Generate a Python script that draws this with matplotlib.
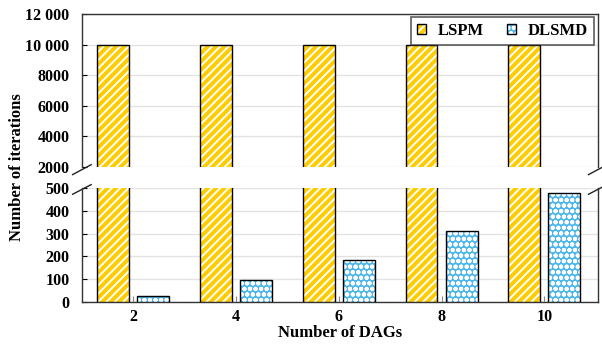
import numpy as np
import matplotlib
matplotlib.use('Agg')
import matplotlib.pyplot as plt
from matplotlib.ticker import FuncFormatter
from matplotlib.patches import Rectangle

plt.rcParams['font.family'] = ['Liberation Serif', 'DejaVu Serif']
plt.rcParams['font.weight'] = 'bold'
plt.rcParams['hatch.linewidth'] = 1.4

dags = ['2', '4', '6', '8', '10']
lspm = [10000, 10000, 10000, 10000, 10000]
dlsmd = [25, 95, 182, 312, 480]

yellow = '#FFCC00'
blue = '#4DB6EA'

x = np.arange(len(dags))
w = 0.31
off = 0.195

fig = plt.figure(figsize=(6.02, 3.45), dpi=100)
ax_top = fig.add_axes([0.136, 0.516, 0.857, 0.443])
ax_bot = fig.add_axes([0.136, 0.125, 0.857, 0.330])

for ax in (ax_top, ax_bot):
    # fill + white hatch, then black outline on top
    ax.bar(x - off, lspm, w, color=yellow, edgecolor='white', hatch='////',
           linewidth=0, zorder=3)
    ax.bar(x - off, lspm, w, fill=False, edgecolor='black', linewidth=1.0, zorder=4)
    ax.bar(x + off, dlsmd, w, color=blue, edgecolor='white', hatch='ooo',
           linewidth=0, zorder=3)
    ax.bar(x + off, dlsmd, w, fill=False, edgecolor='black', linewidth=1.0, zorder=4)
    ax.set_xlim(-0.5, 4.52)
    ax.grid(axis='y', color='#e3e3e3', linewidth=1.0, zorder=0)
    ax.tick_params(axis='both', direction='in', labelsize=11.5)
    ax.tick_params(axis='y', pad=9)
    for s in ax.spines.values():
        s.set_color('#333333')
        s.set_linewidth(1.0)

ax_top.set_ylim(2000, 12000)
ax_top.set_yticks([2000, 4000, 6000, 8000, 10000, 12000])
ax_top.yaxis.set_major_formatter(FuncFormatter(
    lambda v, p: f'{int(v):,}'.replace(',', ' ') if v >= 10000 else f'{int(v)}'))
ax_top.spines['bottom'].set_visible(False)
ax_top.tick_params(axis='x', which='both', bottom=False, labelbottom=False)

ax_bot.set_ylim(0, 500)
ax_bot.set_yticks([0, 100, 200, 300, 400, 500])
ax_bot.spines['top'].set_visible(False)
ax_bot.set_xticks(x)
ax_bot.set_xticklabels(dags)
ax_bot.tick_params(axis='x', length=4, color='#888888', pad=5)

for lab in ax_top.get_yticklabels() + ax_bot.get_yticklabels() + ax_bot.get_xticklabels():
    lab.set_fontweight('bold')

# break marks
dx, dy = 0.018, 0.05
kw = dict(color='#222222', clip_on=False, linewidth=1.0)
ax_top.plot((-dx, dx), (-dy, dy * 0.3), transform=ax_top.transAxes, **kw)
ax_top.plot((1 - dx, 1 + dx), (-dy, dy * 0.3), transform=ax_top.transAxes, **kw)
ax_bot.plot((-dx, dx), (1 - dy * 1.1, 1 + dy * 0.6), transform=ax_bot.transAxes, **kw)
ax_bot.plot((1 - dx, 1 + dx), (1 - dy * 1.1, 1 + dy * 0.6), transform=ax_bot.transAxes, **kw)

# legend: invisible handles, then swatches drawn by hand
h_lspm = Rectangle((0, 0), 1, 1, alpha=0)
h_dlsmd = Rectangle((0, 0), 1, 1, alpha=0)
leg = ax_top.legend([h_lspm, h_dlsmd], ['LSPM', 'DLSMD'],
                    loc='upper right', ncol=2, frameon=True, fancybox=False,
                    prop={'weight': 'bold', 'size': 12}, handlelength=0.55,
                    handleheight=0.55, handletextpad=0.7, columnspacing=1.4,
                    borderpad=0.35, borderaxespad=0, bbox_to_anchor=(0.993, 0.98))
leg.get_frame().set_edgecolor('#333333')
leg.get_frame().set_linewidth(1.2)

fig.canvas.draw()
for patch, col, hatch in zip(leg.get_patches(), [yellow, blue], ['////', 'ooo']):
    bb = patch.get_window_extent().transformed(fig.transFigure.inverted())
    fig.add_artist(Rectangle((bb.x0, bb.y0), bb.width, bb.height, facecolor=col,
                             edgecolor='white', hatch=hatch, linewidth=0,
                             transform=fig.transFigure, zorder=10))
    fig.add_artist(Rectangle((bb.x0, bb.y0), bb.width, bb.height, fill=False,
                             edgecolor='black', linewidth=1.0,
                             transform=fig.transFigure, zorder=11))

fig.text(0.028, 0.515, 'Number of iterations', rotation=90, ha='center',
         va='center', fontsize=12, fontweight='bold')
fig.text(0.565, 0.035, 'Number of DAGs', ha='center', va='center',
         fontsize=12, fontweight='bold')

fig.savefig('out.png', dpi=100)
